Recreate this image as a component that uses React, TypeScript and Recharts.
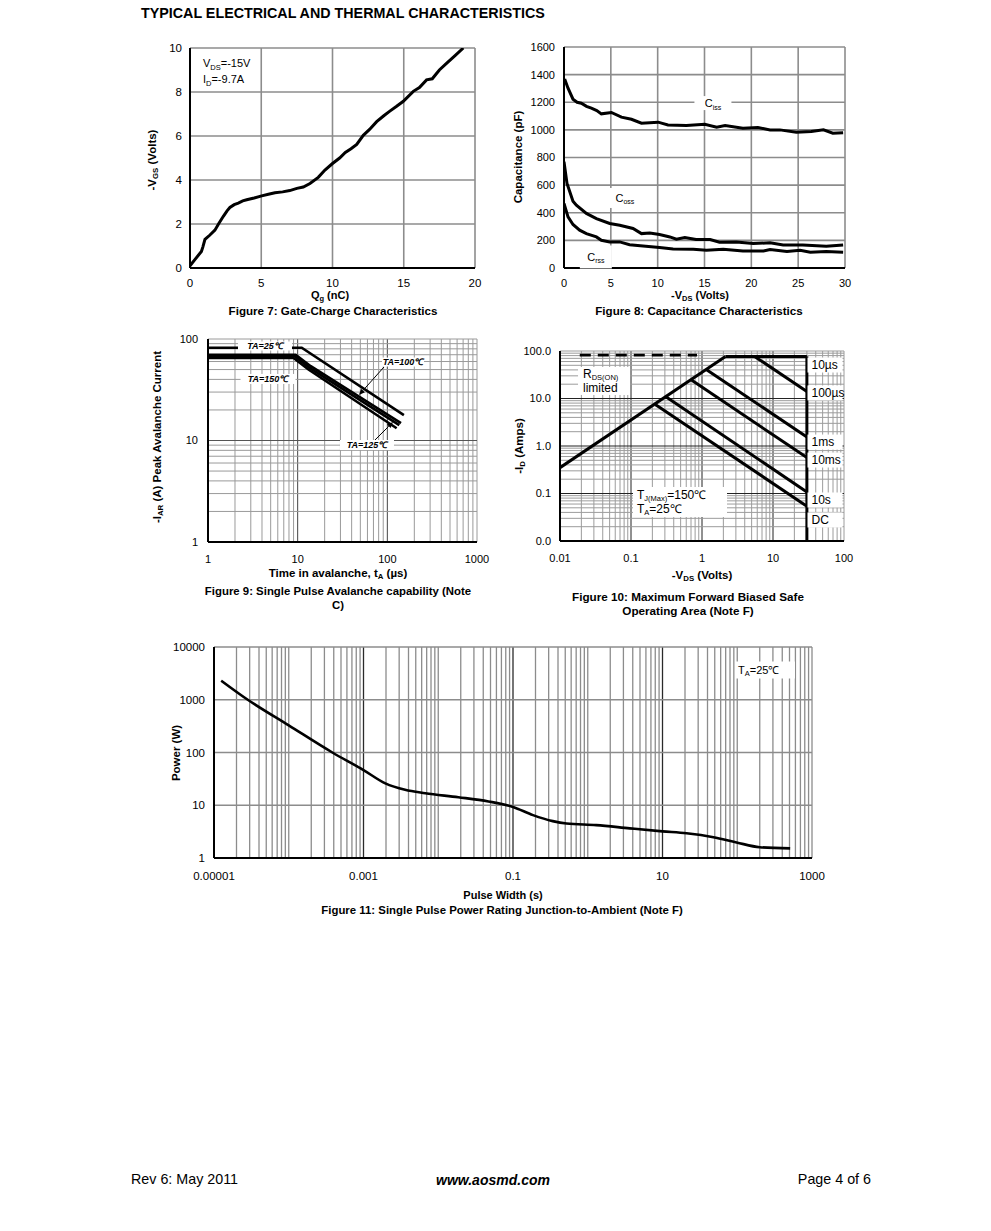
import React from "react";
import { LineChart, Line, XAxis, YAxis, CartesianGrid, ReferenceLine, ReferenceDot } from "recharts";

const FONT = "'Liberation Sans', Arial, Helvetica, sans-serif";
const DEG = "\u2103";

// ---------------- Figure 7: Gate charge ----------------
const fig7Qg = [0, 0.3, 0.8, 0.9, 1.05, 1.4, 1.75, 2.0, 2.34, 2.6, 2.8, 3.1, 3.39, 3.7, 3.98, 4.5, 5.03, 5.5, 5.96, 6.5, 7.0, 7.5, 7.95, 8.42, 9.0, 9.47, 10.0, 10.5, 10.9, 11.3, 11.7, 12.16, 12.6, 13.1, 13.6, 14.0, 14.5, 14.97, 15.67, 16.1, 16.6, 17.0, 17.5, 18.0, 18.6, 19.18];
const fig7Vgs = [0.1, 0.35, 0.75, 0.95, 1.3, 1.5, 1.72, 2.0, 2.35, 2.6, 2.75, 2.88, 2.95, 3.05, 3.1, 3.18, 3.28, 3.35, 3.42, 3.46, 3.52, 3.62, 3.68, 3.84, 4.12, 4.45, 4.75, 5.0, 5.25, 5.42, 5.62, 6.03, 6.3, 6.65, 6.92, 7.12, 7.35, 7.58, 8.03, 8.2, 8.55, 8.6, 9.0, 9.3, 9.65, 10.0];
const fig7XTicks = [0, 5, 10, 15, 20];
const fig7YTicks = [0, 2, 4, 6, 8, 10];

// ---------------- Figure 8: Capacitance ----------------
const cissV = [0.07, 0.43, 0.96, 1.4, 1.85, 2.4, 2.92, 3.5, 3.99, 5.06, 6.13, 7.2, 8.27, 10.05, 11.1, 13.07, 15.03, 16.3, 17.2, 19.1, 20.7, 22, 23.05, 24.8, 26.4, 27.7, 28.7, 29.8];
const cissC = [1368, 1302, 1222, 1200, 1193, 1170, 1157, 1140, 1116, 1126, 1092, 1077, 1048, 1056, 1036, 1031, 1041, 1019, 1031, 1012, 1017, 1000, 1000, 983, 988, 1000, 976, 980];
const cossV = [0, 0.32, 0.96, 1.32, 2.39, 3.46, 4.88, 5.95, 7.37, 8.27, 9.16, 10.2, 11.3, 12, 12.9, 14.1, 15.6, 16.6, 18.4, 20.2, 22, 23.4, 25.5, 28, 29.8];
const cossC = [770, 612, 484, 455, 395, 358, 322, 310, 286, 249, 254, 242, 225, 208, 220, 206, 206, 186, 189, 177, 182, 167, 167, 157, 167];
const crssV = [0, 0.43, 0.96, 1.67, 2.39, 3.46, 3.99, 4.88, 5.95, 7.0, 8.44, 10.2, 11.65, 13.8, 15.2, 17, 19.1, 21.3, 22, 23.8, 25.2, 26.3, 28, 29.8];
const crssC = [467, 370, 315, 274, 249, 225, 201, 189, 189, 169, 160, 148, 138, 136, 128, 136, 123, 123, 133, 119, 128, 114, 119, 114];
const fig8XTicks = [0, 5, 10, 15, 20, 25, 30];
const fig8YTicks = [0, 200, 400, 600, 800, 1000, 1200, 1400, 1600];
const fig8TagX = [15.9, 6.5, 3.4];
const fig8TagY = [1194, 507, 80];

// ---------------- Figure 9: Avalanche ----------------
const ta25T = [1, 11.1, 153];
const ta25I = [82, 82, 17.8];
const ta100T = [1, 9.5, 14, 142];
const ta100I = [70, 70, 54, 14.8];
const ta125T = [1, 9.3, 13.6, 136];
const ta125I = [67.5, 67.5, 52, 14.2];
const ta150T = [1, 9, 13.2, 127];
const ta150I = [65, 65, 50, 13.2];
const fig9XTicks = [1, 10, 100, 1000];
const fig9YTicks = [1, 10, 100];
const fig9TagX = [4.32, 149.6, 4.67, 59.3];
const fig9TagY = [85.3, 59.3, 40.4, 9.03];
const arrow100 = [{ x: 91.8, y: 53 }, { x: 48.3, y: 28.1 }];
const arrow125 = [{ x: 69.2, y: 9.67 }, { x: 115.7, y: 15.2 }];

// ---------------- Figure 10: SOA ----------------
const rdsV = [0.01, 2.14];
const rdsI = [0.35, 77];
const topV = [2.14, 30];
const topI = [77, 77];
const us10V = [5.5, 30];
const us10I = [77, 14];
const us100V = [1.16, 30];
const us100I = [40.5, 1.55];
const ms1V = [0.71, 30];
const ms1I = [24.5, 0.57];
const ms10V = [0.31, 30];
const ms10I = [10.9, 0.108];
const s10V = [0.22, 30];
const s10I = [7.5, 0.054];
const dcV = [30, 30];
const dcI = [77, 0.01];
const dashV = [0.019, 0.85];
const dashI = [82, 82];
const fig10XTicks = [0.01, 0.1, 1, 10, 100];
const fig10YTicks = [0.01, 0.1, 1, 10, 100];
const fig10YLabels = ["0.0", "0.1", "1.0", "10.0", "100.0"];
const fig10SideX = 54;
const fig10SideY = [50.7, 13.1, 1.21, 0.507, 0.073, 0.0277];
const fig10SideLabels = ["10\u00b5s", "100\u00b5s", "1ms", "10ms", "10s", "DC"];

// ---------------- Figure 11: Power ----------------
const pwT = [1.25e-5, 2.83e-5, 1e-4, 3.83e-4, 1e-3, 1.96e-3, 3.6e-3, 6.7e-3, 0.0186, 0.047, 0.1, 0.185, 0.34, 0.52, 1.3, 3.65, 10, 21, 48, 98, 200, 510];
const pwP = [2300, 1000, 327, 100, 46.5, 26, 19.6, 16.9, 14.2, 11.8, 9.3, 6.5, 5.0, 4.5, 4.2, 3.65, 3.2, 2.94, 2.48, 1.97, 1.6, 1.52];
const fig11XTicks = [1e-5, 1e-3, 0.1, 10, 1000];
const fig11XLabels = ["0.00001", "0.001", "0.1", "10", "1000"];
const fig11YTicks = [1, 10, 100, 1000, 10000];

const zip = (xs: number[], ys: number[]) => xs.map((x, i) => ({ x, y: ys[i] }));

const logGrid = (lo: number, hi: number) => {
  const out: number[] = [];
  const e0 = Math.round(Math.log10(lo));
  const e1 = Math.round(Math.log10(hi));
  for (let e = e0; e < e1; e++) {
    for (let m = 1; m < 10; m++) out.push(Number((m * Math.pow(10, e)).toPrecision(6)));
  }
  out.push(hi);
  return out;
};
const isDecade = (v: number) => Math.abs(Math.log10(v) - Math.round(Math.log10(v))) < 1e-6;

const PAD_L = 80;
const PAD_T = 10;
const PAD_R = 32;
const X_H = 30;
const AX = { stroke: "#000", strokeWidth: 2 };
const tick = (size: number) => ({ fill: "#000", fontSize: size, fontFamily: FONT });

function chartBox(plot: number[], children: React.ReactNode) {
  const [l, t, w, h] = plot;
  return (
    <div style={{ position: "absolute", left: l - PAD_L, top: t - PAD_T }}>
      <LineChart width={w + PAD_L + PAD_R} height={h + PAD_T + X_H} margin={{ top: PAD_T, right: PAD_R, bottom: 0, left: 0 }}>
        {children}
      </LineChart>
    </div>
  );
}

type TagSpec = {
  w: number;
  h: number;
  lines: React.ReactNode[];
  size: number;
  start?: boolean;
  pad?: number;
  gap?: number;
  bold?: boolean;
  italic?: boolean;
};
const tag = (s: TagSpec) => (props: any) => {
  const { cx, cy } = props;
  if (cx == null || cy == null) return <g />;
  const n = s.lines.length;
  const gap = s.gap ?? s.size * 1.2;
  const tx = s.start ? cx - s.w / 2 + (s.pad ?? 3) : cx;
  return (
    <g>
      {s.w > 0 && <rect x={cx - s.w / 2} y={cy - s.h / 2} width={s.w} height={s.h} fill="#fff" />}
      {s.lines.map((ln, i) => (
        <text
          key={i}
          x={tx}
          y={cy + (i - (n - 1) / 2) * gap}
          dy="0.36em"
          textAnchor={s.start ? "start" : "middle"}
          fontSize={s.size}
          fontFamily={FONT}
          fontWeight={s.bold ? "bold" : "normal"}
          fontStyle={s.italic ? "italic" : "normal"}
          fill="#000"
        >
          {ln}
        </text>
      ))}
    </g>
  );
};

const arrowShape = (p: any) => {
  const { x1, y1, x2, y2 } = p;
  if ([x1, y1, x2, y2].some((v) => v == null || isNaN(v))) return <g />;
  const a = Math.atan2(y2 - y1, x2 - x1);
  const L = 6;
  const W = 2.6;
  const bx = x2 - L * Math.cos(a);
  const by = y2 - L * Math.sin(a);
  const pts = `${x2},${y2} ${bx + W * Math.sin(a)},${by - W * Math.cos(a)} ${bx - W * Math.sin(a)},${by + W * Math.cos(a)}`;
  return (
    <g>
      <line x1={x1} y1={y1} x2={bx} y2={by} stroke="#000" strokeWidth={1} />
      <polygon points={pts} fill="#000" />
    </g>
  );
};

function Txt(props: { x: number; y: number; size?: number; bold?: boolean; italic?: boolean; anchor?: "start" | "middle" | "end"; rotate?: boolean; children: React.ReactNode }) {
  const { x, y, size = 11.5, bold = false, italic = false, anchor = "middle", rotate = false, children } = props;
  const tx = anchor === "middle" ? "-50%" : anchor === "end" ? "-100%" : "0";
  return (
    <div
      style={{
        position: "absolute",
        left: x,
        top: y,
        transform: `translate(${tx}, -50%)${rotate ? " rotate(-90deg)" : ""}`,
        fontSize: size,
        fontWeight: bold ? "bold" : "normal",
        fontStyle: italic ? "italic" : "normal",
        whiteSpace: "nowrap",
        lineHeight: 1.2,
        fontFamily: FONT,
        color: "#000",
        textAlign: "center",
      }}
    >
      {children}
    </div>
  );
}
const Sub = ({ children }: { children: React.ReactNode }) => (
  <span style={{ fontSize: "0.68em", position: "relative", top: "0.3em" }}>{children}</span>
);

const lineProps = { dataKey: "y", dot: false, isAnimationActive: false, stroke: "#000" } as const;

function Fig7() {
  return chartBox([190, 48, 285, 220], [
    <CartesianGrid key="g" stroke="#8c8c8c" strokeWidth={1.6} />,
    <XAxis key="x" type="number" dataKey="x" domain={[0, 20]} ticks={fig7XTicks} interval={0} height={X_H} tickSize={0} tickMargin={11} axisLine={AX} tickLine={false} tick={tick(11.5)} allowDataOverflow />,
    <YAxis key="y" type="number" dataKey="y" domain={[0, 10]} ticks={fig7YTicks} interval={0} width={PAD_L} tickSize={0} tickMargin={8} axisLine={AX} tickLine={false} tick={tick(11.5)} allowDataOverflow />,
    <Line key="l" {...lineProps} data={zip(fig7Qg, fig7Vgs)} type="linear" strokeWidth={3} />,
    <ReferenceDot
      key="t"
      x={0.91}
      y={8.95}
      r={0}
      shape={tag({
        w: 0,
        h: 0,
        start: true,
        pad: 0,
        size: 11,
        gap: 16,
        lines: [
          <>V<tspan fontSize={7.5} dy={2.5}>DS</tspan><tspan dy={-2.5}>=-15V</tspan></>,
          <>I<tspan fontSize={7.5} dy={2.5}>D</tspan><tspan dy={-2.5}>=-9.7A</tspan></>,
        ],
      })}
    />,
  ]);
}

function Fig8() {
  const labels = [
    { w: 37, h: 14, node: <>C<tspan fontSize={7} dy={2.5}>iss</tspan></> },
    { w: 30, h: 20, node: <>C<tspan fontSize={7} dy={2.5}>oss</tspan></> },
    { w: 32, h: 23, node: <>C<tspan fontSize={7} dy={2.5}>rss</tspan></> },
  ];
  return chartBox([564, 47, 281, 221], [
    <CartesianGrid key="g" stroke="#8c8c8c" strokeWidth={1.6} />,
    <XAxis key="x" type="number" dataKey="x" domain={[0, 30]} ticks={fig8XTicks} interval={0} height={X_H} tickSize={0} tickMargin={11} axisLine={AX} tickLine={false} tick={tick(11)} allowDataOverflow />,
    <YAxis key="y" type="number" dataKey="y" domain={[0, 1600]} ticks={fig8YTicks} interval={0} width={PAD_L} tickSize={0} tickMargin={9} axisLine={AX} tickLine={false} tick={tick(11)} allowDataOverflow />,
    <Line key="ciss" {...lineProps} data={zip(cissV, cissC)} type="linear" strokeWidth={3} />,
    <Line key="coss" {...lineProps} data={zip(cossV, cossC)} type="linear" strokeWidth={3} />,
    <Line key="crss" {...lineProps} data={zip(crssV, crssC)} type="linear" strokeWidth={3} />,
    ...labels.map((lb, i) => (
      <ReferenceDot key={"t" + i} x={fig8TagX[i]} y={fig8TagY[i]} r={0} shape={tag({ w: lb.w, h: lb.h, size: 11, lines: [lb.node] })} />
    )),
  ]);
}

function Fig9() {
  const xs = logGrid(1, 1000);
  const ys = logGrid(1, 100);
  const names = ["TA=25" + DEG, "TA=100" + DEG, "TA=150" + DEG, "TA=125" + DEG];
  const boxes = [
    [54, 9],
    [42, 9],
    [55, 10],
    [54, 10],
  ];
  return chartBox([208, 339, 269, 203], [
    ...xs.map((v) => <ReferenceLine key={"vx" + v} x={v} stroke={isDecade(v) && v !== 1000 && v !== 1 ? "#444" : "#9a9a9a"} strokeWidth={1} />),
    ...ys.map((v) => <ReferenceLine key={"hy" + v} y={v} stroke={isDecade(v) && v !== 100 && v !== 1 ? "#555" : "#9a9a9a"} strokeWidth={1} />),
    <XAxis key="x" type="number" dataKey="x" scale="log" domain={[1, 1000]} ticks={fig9XTicks} interval={0} height={X_H} tickSize={0} tickMargin={13} axisLine={AX} tickLine={false} tick={tick(11)} allowDataOverflow />,
    <YAxis key="y" type="number" dataKey="y" scale="log" domain={[1, 100]} ticks={fig9YTicks} interval={0} width={PAD_L} tickSize={0} tickMargin={10} axisLine={AX} tickLine={false} tick={tick(11)} allowDataOverflow />,
    <Line key="l25" {...lineProps} data={zip(ta25T, ta25I)} type="linear" strokeWidth={2.6} />,
    <Line key="l100" {...lineProps} data={zip(ta100T, ta100I)} type="linear" strokeWidth={2.6} />,
    <Line key="l125" {...lineProps} data={zip(ta125T, ta125I)} type="linear" strokeWidth={2.6} />,
    <Line key="l150" {...lineProps} data={zip(ta150T, ta150I)} type="linear" strokeWidth={2.6} />,
    ...names.map((nm, i) => (
      <ReferenceDot key={"t" + i} x={fig9TagX[i]} y={fig9TagY[i]} r={0} shape={tag({ w: boxes[i][0], h: boxes[i][1], size: 9, bold: true, italic: true, lines: [nm] })} />
    )),
    <ReferenceLine key="a1" segment={arrow100} shape={arrowShape} />,
    <ReferenceLine key="a2" segment={arrow125} shape={arrowShape} />,
  ]);
}

function Fig10() {
  const xs = logGrid(0.01, 100);
  const ys = logGrid(0.01, 100);
  return chartBox([560, 351, 284, 190], [
    ...xs.map((v) => <ReferenceLine key={"vx" + v} x={v} stroke={isDecade(v) && v !== 100 && v !== 0.01 ? "#222" : "#9c9c9c"} strokeWidth={1} />),
    ...ys.map((v) => <ReferenceLine key={"hy" + v} y={v} stroke={isDecade(v) && v !== 100 && v !== 0.01 ? "#222" : "#9c9c9c"} strokeWidth={1} />),
    <XAxis key="x" type="number" dataKey="x" scale="log" domain={[0.01, 100]} ticks={fig10XTicks} interval={0} height={X_H} tickSize={0} tickMargin={13} axisLine={AX} tickLine={false} tick={tick(11)} allowDataOverflow />,
    <YAxis
      key="y"
      type="number"
      dataKey="y"
      scale="log"
      domain={[0.01, 100]}
      ticks={fig10YTicks}
      interval={0}
      width={PAD_L}
      tickSize={0}
      tickMargin={9}
      axisLine={AX}
      tickLine={false}
      tick={tick(11)}
      tickFormatter={(v: number) => fig10YLabels[fig10YTicks.indexOf(v)] ?? String(v)}
      allowDataOverflow
    />,
    <Line key="dash" {...lineProps} data={zip(dashV, dashI)} type="linear" strokeWidth={2.6} strokeDasharray="11 7" />,
    <Line key="rds" {...lineProps} data={zip(rdsV, rdsI)} type="linear" strokeWidth={3} />,
    <Line key="top" {...lineProps} data={zip(topV, topI)} type="linear" strokeWidth={3} />,
    <Line key="u10" {...lineProps} data={zip(us10V, us10I)} type="linear" strokeWidth={3} />,
    <Line key="u100" {...lineProps} data={zip(us100V, us100I)} type="linear" strokeWidth={3} />,
    <Line key="m1" {...lineProps} data={zip(ms1V, ms1I)} type="linear" strokeWidth={3} />,
    <Line key="m10" {...lineProps} data={zip(ms10V, ms10I)} type="linear" strokeWidth={3} />,
    <Line key="s10" {...lineProps} data={zip(s10V, s10I)} type="linear" strokeWidth={3} />,
    <Line key="dc" {...lineProps} data={zip(dcV, dcI)} type="linear" strokeWidth={3} />,
    <ReferenceDot
      key="rdsTag"
      x={0.0417}
      y={23.4}
      r={0}
      shape={tag({
        w: 52,
        h: 28,
        start: true,
        pad: 5,
        size: 12,
        gap: 14,
        lines: [<>R<tspan fontSize={7.5} dy={2}>DS(ON)</tspan></>, "limited"],
      })}
    />,
    ...fig10SideLabels.map((lb, i) => (
      <ReferenceDot key={"s" + i} x={fig10SideX} y={fig10SideY[i]} r={0} shape={tag({ w: 35, h: 15, start: true, pad: 4, size: 12, lines: [lb] })} />
    )),
    <ReferenceDot
      key="tj"
      x={0.49}
      y={0.0662}
      r={0}
      shape={tag({
        w: 94,
        h: 30,
        start: true,
        pad: 4,
        size: 12,
        gap: 14,
        lines: [
          <>T<tspan fontSize={7.5} dy={2}>J(Max)</tspan><tspan dy={-2}>{"=150" + DEG}</tspan></>,
          <>T<tspan fontSize={7.5} dy={2}>A</tspan><tspan dy={-2}>{"=25" + DEG}</tspan></>,
        ],
      })}
    />,
  ]);
}

function Fig11() {
  const xs = logGrid(1e-5, 1000);
  return chartBox([214, 647, 598, 211], [
    ...xs.map((v) => (
      <ReferenceLine key={"vx" + v} x={v} stroke={fig11XTicks.indexOf(v) > 0 && v !== 1000 ? "#2a2a2a" : "#8c8c8c"} strokeWidth={1.3} />
    )),
    ...fig11YTicks.map((v) => <ReferenceLine key={"hy" + v} y={v} stroke="#8c8c8c" strokeWidth={1.6} />),
    <XAxis
      key="x"
      type="number"
      dataKey="x"
      scale="log"
      domain={[1e-5, 1000]}
      ticks={fig11XTicks}
      interval={0}
      height={X_H}
      tickSize={0}
      tickMargin={14}
      axisLine={AX}
      tickLine={false}
      tick={tick(11.5)}
      tickFormatter={(v: number) => fig11XLabels[fig11XTicks.indexOf(v)] ?? String(v)}
      allowDataOverflow
    />,
    <YAxis key="y" type="number" dataKey="y" scale="log" domain={[1, 10000]} ticks={fig11YTicks} interval={0} width={PAD_L} tickSize={0} tickMargin={9} axisLine={AX} tickLine={false} tick={tick(11.5)} allowDataOverflow />,
    <Line key="p" {...lineProps} data={zip(pwT, pwP)} type="monotone" strokeWidth={2.6} />,
    <ReferenceDot
      key="ta"
      x={235}
      y={3664}
      r={0}
      shape={tag({ w: 60, h: 17, start: true, pad: 3, size: 11, lines: [<>T<tspan fontSize={7.5} dy={2.5}>A</tspan><tspan dy={-2.5}>{"=25" + DEG}</tspan></>] })}
    />,
  ]);
}

export default function App() {
  return (
    <div style={{ position: "absolute", left: 0, top: 0, width: 991, height: 1231, background: "#fff", overflow: "hidden", fontFamily: FONT }}>
      <Txt x={141} y={14} size={14.3} bold anchor="start">TYPICAL ELECTRICAL AND THERMAL CHARACTERISTICS</Txt>

      <Fig7 />
      <Txt x={153} y={160} bold rotate>-V<Sub>GS</Sub> (Volts)</Txt>
      <Txt x={330} y={296} size={11} bold>Q<Sub>g</Sub> (nC)</Txt>
      <Txt x={333} y={311} size={11.6} bold>Figure 7: Gate-Charge Characteristics</Txt>

      <Fig8 />
      <Txt x={519} y={157} bold rotate>Capacitance (pF)</Txt>
      <Txt x={700} y={296} size={11} bold>-V<Sub>DS</Sub> (Volts)</Txt>
      <Txt x={699} y={311} size={11.6} bold>Figure 8: Capacitance Characteristics</Txt>

      <Fig9 />
      <Txt x={158} y={437} bold rotate>-I<Sub>AR</Sub> (A) Peak Avalanche Current</Txt>
      <Txt x={338} y={574} bold>Time in avalanche, t<Sub>A</Sub> (µs)</Txt>
      <Txt x={338} y={599} size={11.4} bold>Figure 9: Single Pulse Avalanche capability (Note<br />C)</Txt>

      <Fig10 />
      <Txt x={520} y={446} bold rotate>-I<Sub>D</Sub> (Amps)</Txt>
      <Txt x={702} y={576} bold>-V<Sub>DS</Sub> (Volts)</Txt>
      <Txt x={688} y={604} size={11.7} bold>Figure 10: Maximum Forward Biased Safe<br />Operating Area (Note F)</Txt>

      <Fig11 />
      <Txt x={177} y={753} bold rotate>Power (W)</Txt>
      <Txt x={503} y={896} size={11} bold>Pulse Width (s)</Txt>
      <Txt x={502} y={911} size={11.4} bold>Figure 11: Single Pulse Power Rating Junction-to-Ambient (Note F)</Txt>

      <Txt x={131} y={1180} size={14.3} anchor="start">Rev 6: May 2011</Txt>
      <Txt x={493} y={1180} size={14} bold italic>www.aosmd.com</Txt>
      <Txt x={871} y={1180} size={14.3} anchor="end">Page 4 of 6</Txt>
    </div>
  );
}
